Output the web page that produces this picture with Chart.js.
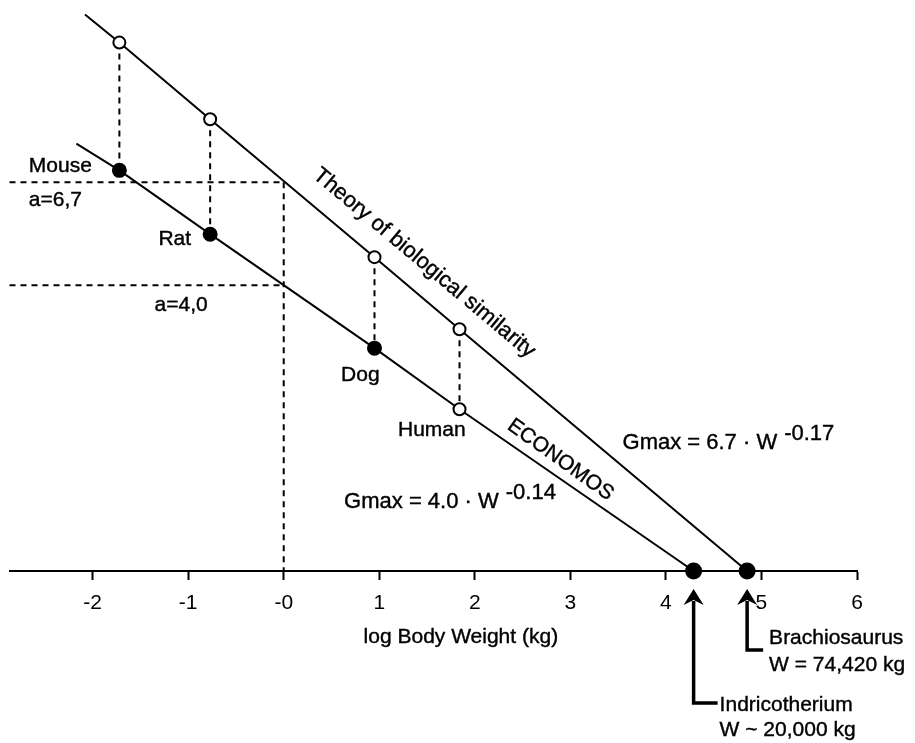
<!DOCTYPE html>
<html>
<head>
<meta charset="utf-8">
<script src="https://cdn.jsdelivr.net/npm/chart.js@4.4.0/dist/chart.umd.min.js"></script>
<style>
  html,body{margin:0;padding:0;background:#fff}
  #wrap{width:915px;height:743px}
</style>
</head>
<body>
<div id="wrap"><canvas id="c" width="915" height="743"></canvas></div>
<script>
// values (x = log body weight, y = log Gmax, axis at 0)
const species = ["Mouse","Rat","Dog","Human"];
const logW = [-1.72,-0.77,0.95,1.84];
const theoryLogG = [1.150,0.983,0.683,0.526];
const economosLogG = [0.872,0.733,0.485,0.352];
const theoryStart = [-2.08,1.211];
const economosStart = [-2.17,0.930];
const limitLogW = [4.85,4.29];          // Brachiosaurus, Indricotherium
const interceptLogG = [0.846,0.622];    // a=6,7 ; a=4,0
const xTicks = [-2,-1,0,1,2,3,4,5,6];
const X_MIN = -2.87, X_MAX = 6, Y_MIN = 0, Y_MAX = 1.222;

const FONT = '"Liberation Sans", Arial, sans-serif';
const BLACK = '#000';

function pt(x,y){ return {x:x,y:y}; }

const theoryData = [pt(theoryStart[0],theoryStart[1])]
  .concat(logW.map((w,i)=>pt(w,theoryLogG[i])))
  .concat([pt(limitLogW[0],0)]);
const economosData = [pt(economosStart[0],economosStart[1])]
  .concat(logW.map((w,i)=>pt(w,economosLogG[i])))
  .concat([pt(limitLogW[1],0)]);

const lineBase = {showLine:true, borderColor:BLACK, borderWidth:2, clip:false,
  pointBorderColor:BLACK, pointBorderWidth:2, pointHoverRadius:0};
const dashBase = {showLine:true, borderColor:BLACK, borderWidth:2, borderDash:[6,5],
  pointRadius:0, clip:false};

const datasets = [
  Object.assign({}, lineBase, {label:'Theory of biological similarity', data:theoryData,
    pointRadius:[0,6,6,6,6,7.5],
    pointBackgroundColor:['#fff','#fff','#fff','#fff','#fff',BLACK]}),
  Object.assign({}, lineBase, {label:'ECONOMOS', data:economosData,
    pointRadius:[0,6.5,6.5,6.5,6,7.5],
    pointBackgroundColor:['#fff',BLACK,BLACK,BLACK,'#fff',BLACK]})
];
logW.forEach((w,i)=>{
  datasets.push(Object.assign({}, dashBase, {label:species[i], data:[pt(w,theoryLogG[i]),pt(w,economosLogG[i])]}));
});
interceptLogG.forEach(g=>{
  datasets.push(Object.assign({}, dashBase, {label:'a', data:[pt(X_MIN,g),pt(0,g)]}));
});
datasets.push(Object.assign({}, dashBase, {label:'zero', data:[pt(0,interceptLogG[0]),pt(0,0)]}));

const annot = {
  id:'annot',
  afterDraw(chart){
    const ctx = chart.ctx, xs = chart.scales.x, ys = chart.scales.y;
    const px = v=>xs.getPixelForValue(v), py = v=>ys.getPixelForValue(v);
    ctx.save();
    ctx.fillStyle = BLACK; ctx.strokeStyle = BLACK;
    ctx.font = '21px ' + FONT;
    ctx.textBaseline = 'middle';
    ctx.lineWidth = 0.4;
    function t(s,x,y,align){
      ctx.textAlign = align||'left'; ctx.fillText(s,x,y); ctx.strokeText(s,x,y);
    }

    // species + intercept labels
    t('Mouse', px(-2.668), py(0.880));
    t('a=6,7', px(-2.668), py(0.807));
    t('Rat', px(-1.311), py(0.722));
    t('a=4,0', px(-1.352), py(0.578));
    t('Dog', px(0.600), py(0.426));
    t('Human', px(1.196), py(0.307));

    // rotated line names
    function rot(s,x,y,deg,size){
      ctx.save(); ctx.font = size + 'px ' + FONT;
      ctx.translate(px(x),py(y)); ctx.rotate(deg*Math.PI/180);
      t(s,0,0,'center'); ctx.restore();
    }
    rot('Theory of biological similarity', 1.470, 0.670, 40, 22);
    rot('ECONOMOS', 2.895, 0.242, 35.5, 21);

    // formulas with exponent
    function formula(base,exp,x,y){
      const x0 = px(x), y0 = py(y);
      ctx.font = '22px ' + FONT;
      t(base,x0,y0);
      const w = ctx.measureText(base).width;
      t(exp, x0 + w + 7, y0 - 9);
      ctx.font = '21px ' + FONT;
    }
    formula('Gmax = 6.7 \u00b7 W', '-0.17', 3.546, 0.278);
    formula('Gmax = 4.0 \u00b7 W', '-0.14', 0.632, 0.150);

    // axis title
    const axisY = py(0);
    t('log Body Weight (kg)', px(1.854), axisY + 66, 'center');

    // arrows to the limit weights
    function arrow(xv, shaftLen, footLen){
      const x = px(xv);
      const tip = axisY + 18, headBase = axisY + 34, bottom = axisY + shaftLen;
      ctx.save();
      ctx.lineWidth = 3.5;
      ctx.beginPath();
      ctx.moveTo(x, headBase - 4); ctx.lineTo(x, bottom); ctx.lineTo(x + footLen, bottom);
      ctx.stroke();
      ctx.beginPath();
      ctx.moveTo(x, tip); ctx.lineTo(x - 10, headBase); ctx.lineTo(x, headBase - 5); ctx.lineTo(x + 10, headBase);
      ctx.closePath(); ctx.fill();
      ctx.restore();
      return {x:x + footLen, y:bottom};
    }
    const b = arrow(limitLogW[0], 79, 16);
    t('Brachiosaurus', b.x + 6, b.y - 12);
    t('W = 74,420 kg', b.x + 6, b.y + 15);
    const ind = arrow(limitLogW[1], 132, 24);
    t('Indricotherium', ind.x + 2, ind.y + 2);
    t('W ~ 20,000 kg', ind.x + 2, ind.y + 27);
    ctx.restore();
  }
};

new Chart(document.getElementById('c'), {
  type:'scatter',
  data:{datasets:datasets},
  options:{
    responsive:false, animation:false, devicePixelRatio:1,
    layout:{padding:{left:8, right:58, top:0, bottom:0}},
    plugins:{legend:{display:false}, tooltip:{enabled:false}},
    scales:{
      x:{
        type:'linear', min:X_MIN, max:X_MAX,
        afterBuildTicks(s){ s.ticks = xTicks.map(v=>({value:v})); },
        afterFit(s){ s.height = 172; },
        border:{display:true, color:BLACK, width:2},
        grid:{drawOnChartArea:false, drawTicks:true, tickLength:9, tickWidth:2, tickColor:BLACK, color:BLACK},
        ticks:{color:BLACK, padding:11, font:{family:FONT, size:21},
          callback:v=> v===0 ? '-0' : String(v)}
      },
      y:{type:'linear', min:Y_MIN, max:Y_MAX, display:false}
    }
  },
  plugins:[annot]
});
</script>
</body>
</html>
